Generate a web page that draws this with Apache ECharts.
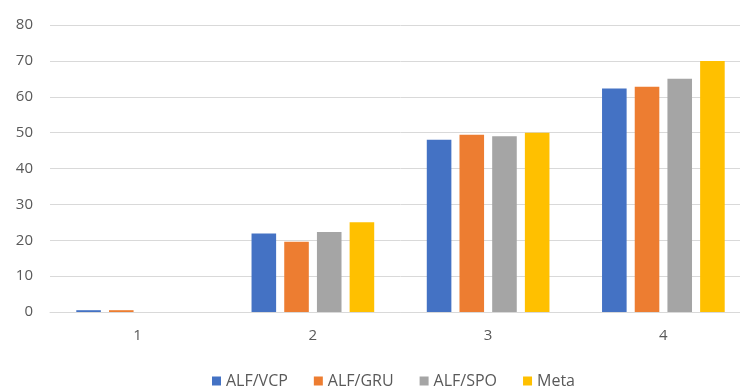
<!DOCTYPE html>
<html>
<head>
<meta charset="utf-8">
<script src="https://cdn.jsdelivr.net/npm/echarts@6/dist/echarts.min.js"></script>
<style>
  html, body { margin: 0; padding: 0; background: #fff; overflow: hidden; }
  /* 图表比窗口略宽，右侧被裁掉，和原图一致 */
  #chart { width: 751px; height: 387px; }
</style>
</head>
<body>
<div id="chart"></div>
<script>
// 数据
var categories = ["1", "2", "3", "4"];
var seriesNames = ["ALF/VCP", "ALF/GRU", "ALF/SPO", "Meta"];
var vcp = [0.5, 21.9, 48.0, 62.3];
var gru = [0.5, 19.6, 49.4, 62.8];
var spo = [0, 22.3, 49.0, 65.0];
var meta = [0, 25.0, 50.0, 70.0];
var colors = ["#4472C4", "#ED7D31", "#A5A5A5", "#FFC000"];

var myChart = echarts.init(document.getElementById("chart"));
var fontFamily = "'Open Sans', 'Noto Sans', sans-serif";

function makeSeries(name, data, color) {
  return {
    name: name,
    type: "bar",
    data: data,
    barGap: "33%",
    barCategoryGap: "30%",
    itemStyle: { color: color },
  };
}

var option = {
  animation: false,
  textStyle: { fontFamily: fontFamily },
  grid: {
    left: 50,
    right: 0,
    top: 25,
    bottom: 75,
  },
  legend: {
    top: 368,
    left: 207,
    itemWidth: 9,
    itemHeight: 9,
    itemGap: 26,
    icon: "rect",
    textStyle: { color: "#595959", fontSize: 16, fontFamily: fontFamily },
    data: seriesNames,
  },
  xAxis: {
    type: "category",
    data: categories,
    axisTick: { show: false },
    axisLine: { lineStyle: { color: "#d9d9d9" } },
    axisLabel: { color: "#595959", fontSize: 15, margin: 16 },
  },
  yAxis: {
    type: "value",
    min: 0,
    max: 80,
    interval: 10,
    axisLine: { show: false },
    axisTick: { show: false },
    axisLabel: { color: "#595959", fontSize: 15, margin: 17 },
    splitLine: { lineStyle: { color: "#d9d9d9" } },
  },
  series: [
    makeSeries(seriesNames[0], vcp, colors[0]),
    makeSeries(seriesNames[1], gru, colors[1]),
    makeSeries(seriesNames[2], spo, colors[2]),
    makeSeries(seriesNames[3], meta, colors[3]),
  ],
};

myChart.setOption(option);
</script>
</body>
</html>
